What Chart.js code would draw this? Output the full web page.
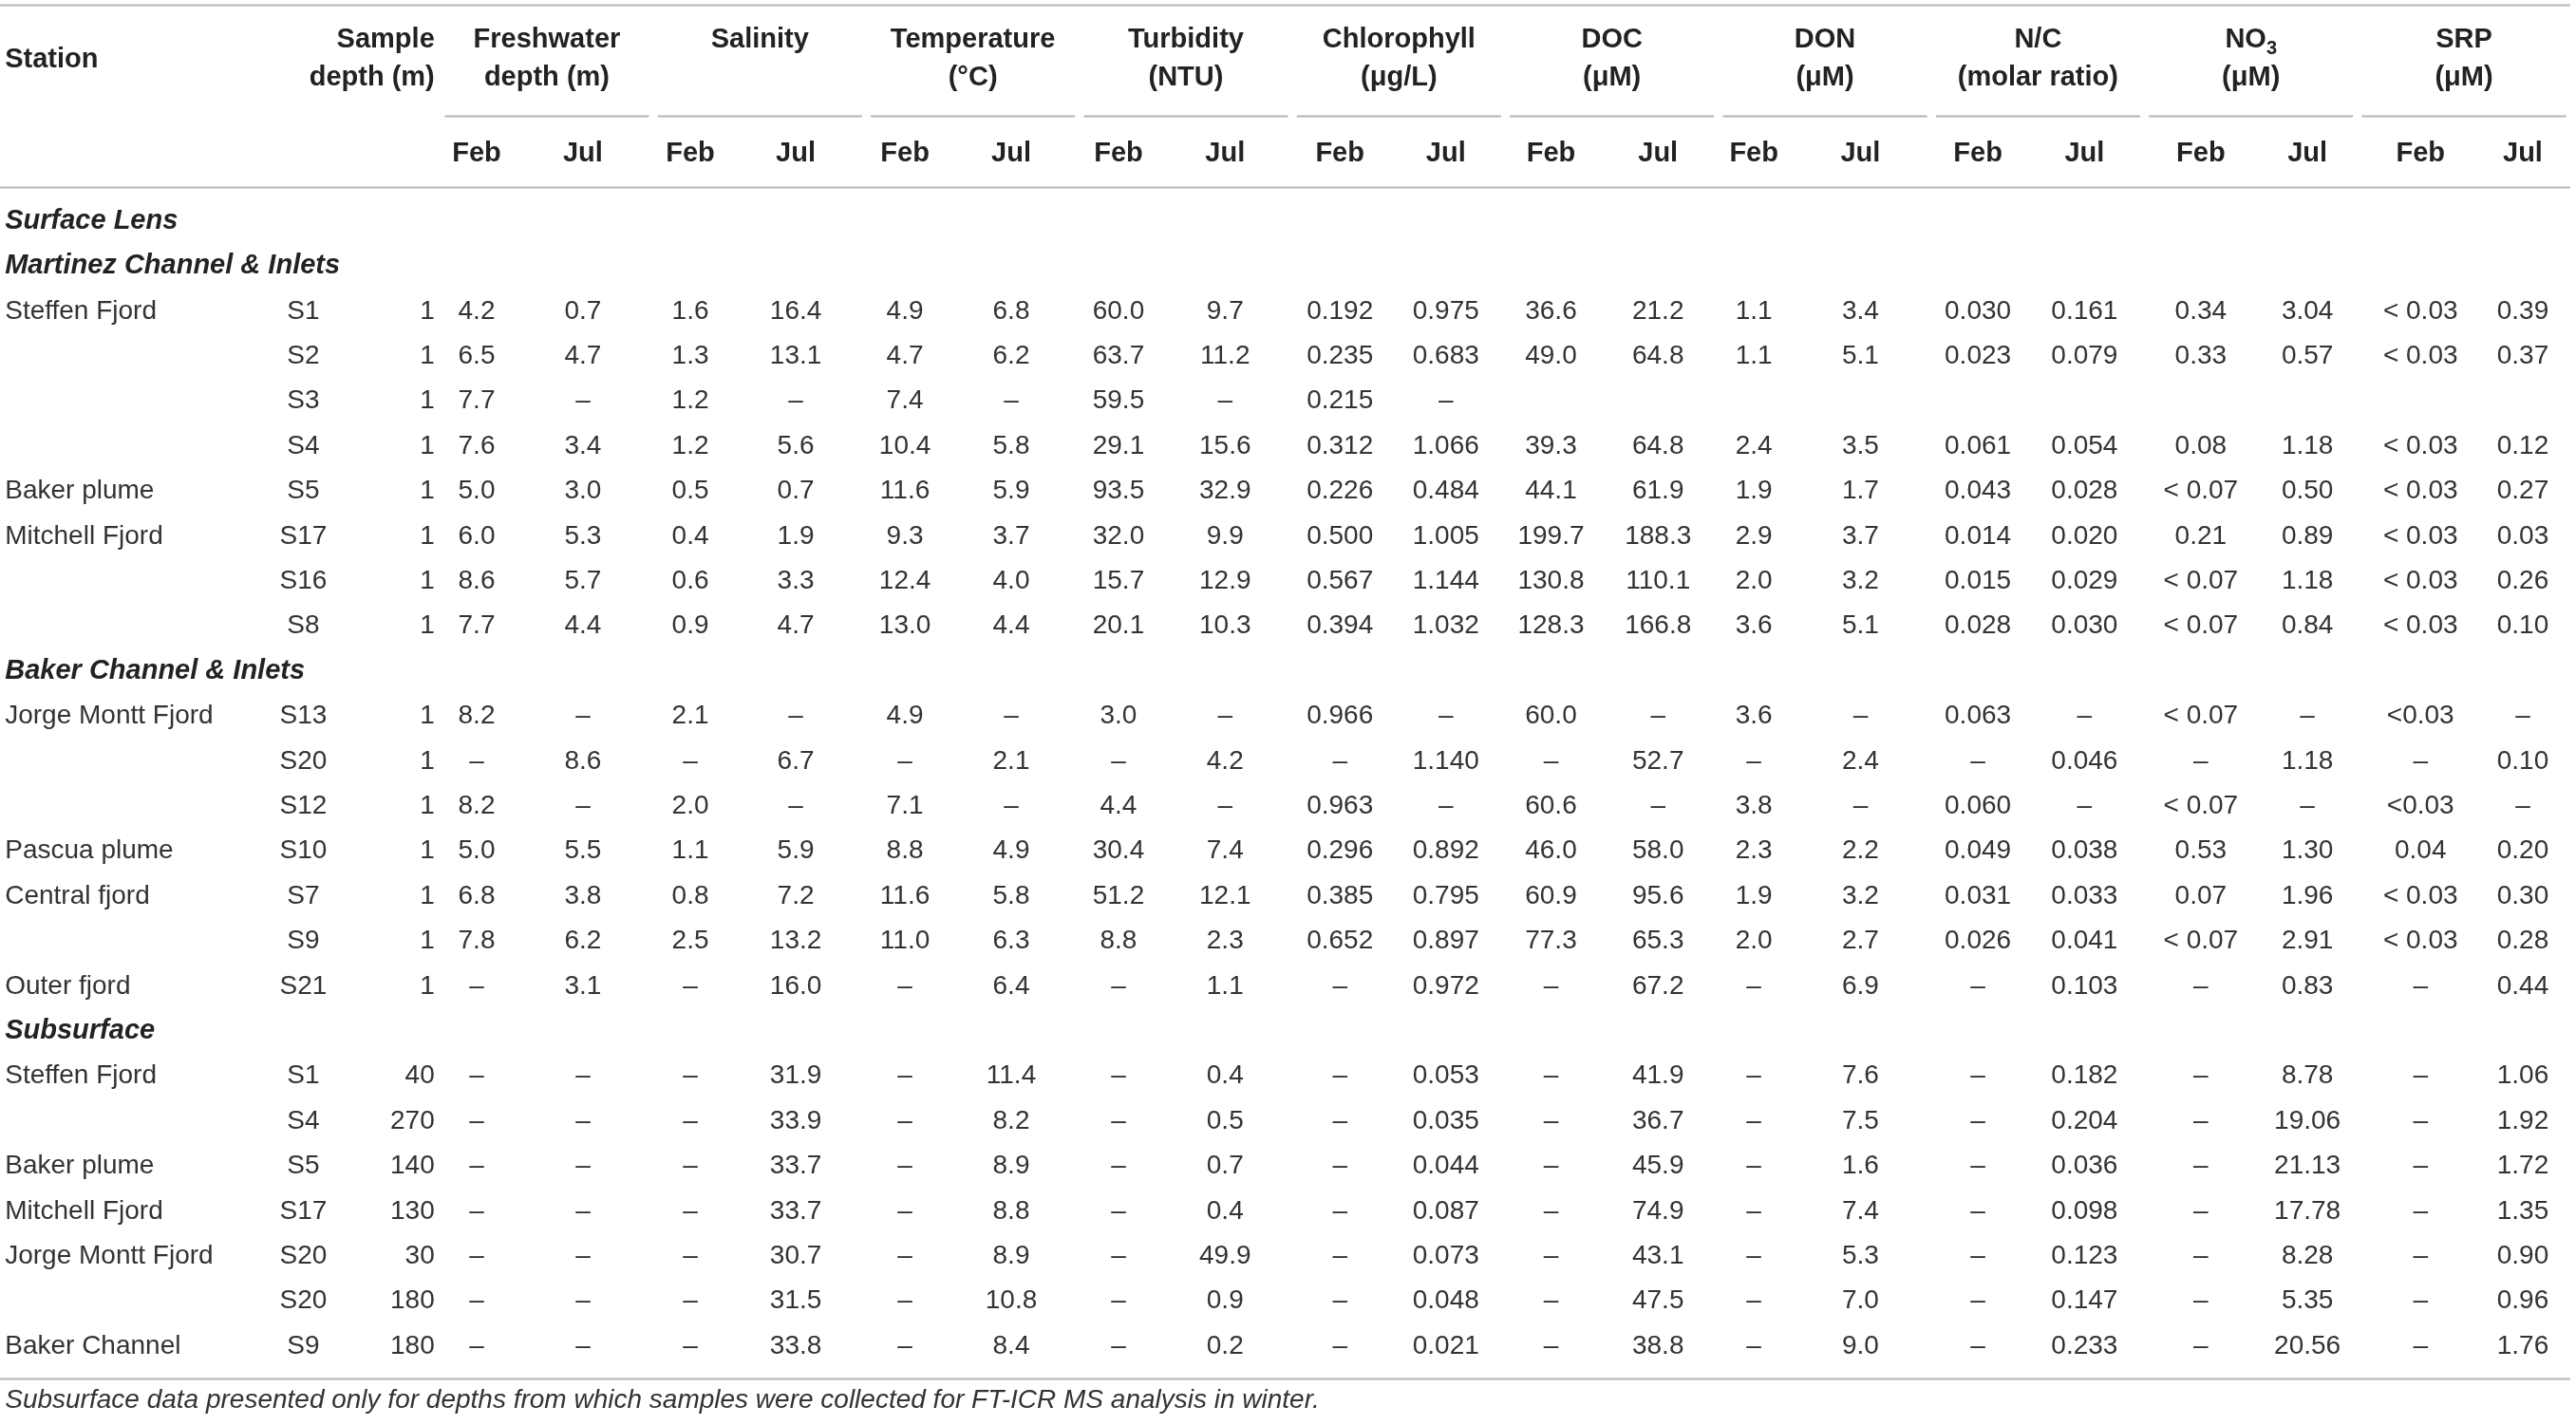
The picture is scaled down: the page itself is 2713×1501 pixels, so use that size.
<!DOCTYPE html>
<html>
<head>
<meta charset="utf-8">
<script src="https://cdn.jsdelivr.net/npm/chart.js@4.4.1/dist/chart.umd.min.js"></script>
<style>
  html, body { margin: 0; padding: 0; background: #fff; }
  canvas { display: block; }
</style>
</head>
<body>
<canvas id="tableChart" width="2713" height="1501"></canvas>
<script>
const D = '\u2013';

// Section headings and the data row they sit above
const sectionTitles = ['Surface Lens', 'Martinez Channel & Inlets', 'Baker Channel & Inlets', 'Subsurface'];
const sectionBefore = [0, 0, 8, 15];

const stationNames = ['Steffen Fjord', '', '', '', 'Baker plume', 'Mitchell Fjord', '', '',
  'Jorge Montt Fjord', '', '', 'Pascua plume', 'Central fjord', '', 'Outer fjord',
  'Steffen Fjord', '', 'Baker plume', 'Mitchell Fjord', 'Jorge Montt Fjord', '', 'Baker Channel'];
const stationIds = ['S1', 'S2', 'S3', 'S4', 'S5', 'S17', 'S16', 'S8',
  'S13', 'S20', 'S12', 'S10', 'S7', 'S9', 'S21',
  'S1', 'S4', 'S5', 'S17', 'S20', 'S20', 'S9'];
const sampleDepths = ['1', '1', '1', '1', '1', '1', '1', '1',
  '1', '1', '1', '1', '1', '1', '1',
  '40', '270', '140', '130', '30', '180', '180'];

const groupLabels = [['Freshwater', 'depth (m)'], ['Salinity'], ['Temperature', '(\u00b0C)'], ['Turbidity', '(NTU)'],
  ['Chlorophyll', '(\u03bcg/L)'], ['DOC', '(\u03bcM)'], ['DON', '(\u03bcM)'], ['N/C', '(molar ratio)'],
  ['NO\u2083', '(\u03bcM)'], ['SRP', '(\u03bcM)']];
const months = ['Feb', 'Jul'];

const sub7 = [D, D, D, D, D, D, D];
const freshFeb = ['4.2', '6.5', '7.7', '7.6', '5.0', '6.0', '8.6', '7.7', '8.2', D, '8.2', '5.0', '6.8', '7.8', D, ...sub7];
const freshJul = ['0.7', '4.7', D, '3.4', '3.0', '5.3', '5.7', '4.4', D, '8.6', D, '5.5', '3.8', '6.2', '3.1', ...sub7];
const salFeb = ['1.6', '1.3', '1.2', '1.2', '0.5', '0.4', '0.6', '0.9', '2.1', D, '2.0', '1.1', '0.8', '2.5', D, ...sub7];
const salJul = ['16.4', '13.1', D, '5.6', '0.7', '1.9', '3.3', '4.7', D, '6.7', D, '5.9', '7.2', '13.2', '16.0',
  '31.9', '33.9', '33.7', '33.7', '30.7', '31.5', '33.8'];
const tempFeb = ['4.9', '4.7', '7.4', '10.4', '11.6', '9.3', '12.4', '13.0', '4.9', D, '7.1', '8.8', '11.6', '11.0', D, ...sub7];
const tempJul = ['6.8', '6.2', D, '5.8', '5.9', '3.7', '4.0', '4.4', D, '2.1', D, '4.9', '5.8', '6.3', '6.4',
  '11.4', '8.2', '8.9', '8.8', '8.9', '10.8', '8.4'];
const turbFeb = ['60.0', '63.7', '59.5', '29.1', '93.5', '32.0', '15.7', '20.1', '3.0', D, '4.4', '30.4', '51.2', '8.8', D, ...sub7];
const turbJul = ['9.7', '11.2', D, '15.6', '32.9', '9.9', '12.9', '10.3', D, '4.2', D, '7.4', '12.1', '2.3', '1.1',
  '0.4', '0.5', '0.7', '0.4', '49.9', '0.9', '0.2'];
const chlFeb = ['0.192', '0.235', '0.215', '0.312', '0.226', '0.500', '0.567', '0.394', '0.966', D, '0.963', '0.296', '0.385', '0.652', D, ...sub7];
const chlJul = ['0.975', '0.683', D, '1.066', '0.484', '1.005', '1.144', '1.032', D, '1.140', D, '0.892', '0.795', '0.897', '0.972',
  '0.053', '0.035', '0.044', '0.087', '0.073', '0.048', '0.021'];
const docFeb = ['36.6', '49.0', '', '39.3', '44.1', '199.7', '130.8', '128.3', '60.0', D, '60.6', '46.0', '60.9', '77.3', D, ...sub7];
const docJul = ['21.2', '64.8', '', '64.8', '61.9', '188.3', '110.1', '166.8', D, '52.7', D, '58.0', '95.6', '65.3', '67.2',
  '41.9', '36.7', '45.9', '74.9', '43.1', '47.5', '38.8'];
const donFeb = ['1.1', '1.1', '', '2.4', '1.9', '2.9', '2.0', '3.6', '3.6', D, '3.8', '2.3', '1.9', '2.0', D, ...sub7];
const donJul = ['3.4', '5.1', '', '3.5', '1.7', '3.7', '3.2', '5.1', D, '2.4', D, '2.2', '3.2', '2.7', '6.9',
  '7.6', '7.5', '1.6', '7.4', '5.3', '7.0', '9.0'];
const ncFeb = ['0.030', '0.023', '', '0.061', '0.043', '0.014', '0.015', '0.028', '0.063', D, '0.060', '0.049', '0.031', '0.026', D, ...sub7];
const ncJul = ['0.161', '0.079', '', '0.054', '0.028', '0.020', '0.029', '0.030', D, '0.046', D, '0.038', '0.033', '0.041', '0.103',
  '0.182', '0.204', '0.036', '0.098', '0.123', '0.147', '0.233'];
const no3Feb = ['0.34', '0.33', '', '0.08', '< 0.07', '0.21', '< 0.07', '< 0.07', '< 0.07', D, '< 0.07', '0.53', '0.07', '< 0.07', D, ...sub7];
const no3Jul = ['3.04', '0.57', '', '1.18', '0.50', '0.89', '1.18', '0.84', D, '1.18', D, '1.30', '1.96', '2.91', '0.83',
  '8.78', '19.06', '21.13', '17.78', '8.28', '5.35', '20.56'];
const srpFeb = ['< 0.03', '< 0.03', '', '< 0.03', '< 0.03', '< 0.03', '< 0.03', '< 0.03', '<0.03', D, '<0.03', '0.04', '< 0.03', '< 0.03', D, ...sub7];
const srpJul = ['0.39', '0.37', '', '0.12', '0.27', '0.03', '0.26', '0.10', D, '0.10', D, '0.20', '0.30', '0.28', '0.44',
  '1.06', '1.92', '1.72', '1.35', '0.90', '0.96', '1.76'];

const valueColumns = [freshFeb, freshJul, salFeb, salJul, tempFeb, tempJul, turbFeb, turbJul, chlFeb, chlJul,
  docFeb, docJul, donFeb, donJul, ncFeb, ncJul, no3Feb, no3Jul, srpFeb, srpJul];

const footnote = 'Subsurface data presented only for depths from which samples were collected for FT-ICR MS analysis in winter.';

// Layout in scale units (x: value column index, y: body row index)
const colPos = [0, 0.987, 1.984, 2.963, 3.977, 4.964, 5.96, 6.95, 8.016, 9.0,
  9.976, 10.97, 11.86, 12.85, 13.94, 14.93, 16.01, 17.0, 18.05, 19.0];
const pos = {
  stationX: -4.38, idX: -1.61, depthX: -0.39,
  groupX0: 0.652, groupStep: 1.978, groupHalf: 0.948,
  head1Y: -4.03, head2Y: -3.19, stationHeadY: -3.59, groupLineY: -2.34, monthY: -1.5,
  topLineY: -4.81, headLineY: -0.76, bottomLineY: 25.72, footY: 26.2,
  lineX0: -4.426, lineX1: 19.44
};

const fonts = {
  body: '28px "Liberation Sans", Arial, sans-serif',
  head: 'bold 29px "Liberation Sans", Arial, sans-serif',
  section: 'italic bold 29px "Liberation Sans", Arial, sans-serif',
  foot: 'italic 28px "Liberation Sans", Arial, sans-serif'
};
const bodyColor = '#333333';
const headColor = '#222222';

// Map data rows to table rows (section headings take a row each)
const rowOf = [];
const sectionRow = [];
let r = 0;
for (let i = 0; i < stationIds.length; i++) {
  sectionBefore.forEach((b, s) => { if (b === i) { sectionRow[s] = r; r++; } });
  rowOf.push(r);
  r++;
}

function textSet(texts, xs, ys, font, align, color) {
  return {
    data: texts.map((t, i) => ({ x: Array.isArray(xs) ? xs[i] : xs, y: Array.isArray(ys) ? ys[i] : ys })),
    texts: texts, font: font, align: align, color: color,
    pointRadius: 0, pointHoverRadius: 0, showLine: false
  };
}

const datasets = [];
datasets.push(textSet(sectionTitles, pos.stationX, sectionRow, fonts.section, 'left', headColor));
datasets.push(textSet(stationNames, pos.stationX, rowOf, fonts.body, 'left', bodyColor));
datasets.push(textSet(stationIds, pos.idX, rowOf, fonts.body, 'center', bodyColor));
datasets.push(textSet(sampleDepths, pos.depthX, rowOf, fonts.body, 'right', bodyColor));
valueColumns.forEach((col, c) => {
  datasets.push(textSet(col, colPos[c], rowOf, fonts.body, 'center', bodyColor));
});
// Header texts
datasets.push(textSet(['Station'], pos.stationX, pos.stationHeadY, fonts.head, 'left', headColor));
datasets.push(textSet(['Sample', 'depth (m)'], pos.depthX, [pos.head1Y, pos.head2Y], fonts.head, 'right', headColor));
const gTexts = [], gXs = [], gYs = [];
groupLabels.forEach((lines, g) => {
  lines.forEach((t, k) => {
    gTexts.push(t);
    gXs.push(pos.groupX0 + pos.groupStep * g);
    gYs.push(k === 0 ? pos.head1Y : pos.head2Y);
  });
});
datasets.push(textSet(gTexts, gXs, gYs, fonts.head, 'center', headColor));
const mTexts = valueColumns.map((_, c) => months[c % 2]);
datasets.push(textSet(mTexts, colPos, pos.monthY, fonts.head, 'center', headColor));
datasets.push(textSet([footnote], pos.stationX, pos.footY, fonts.foot, 'left', bodyColor));

function drawLabel(ctx, text, x, y, font, align) {
  const subIdx = text.indexOf('\u2083');
  if (subIdx < 0) {
    ctx.textAlign = align;
    ctx.fillText(text, x, y);
    return;
  }
  // text with a subscript 3
  const base = text.slice(0, subIdx);
  const small = font.replace(/\d+px/, m => Math.round(parseInt(m) * 0.68) + 'px');
  const w1 = ctx.measureText(base).width;
  ctx.font = small;
  const w2 = ctx.measureText('3').width;
  let left = align === 'center' ? x - (w1 + w2) / 2 : align === 'right' ? x - w1 - w2 : x;
  ctx.textAlign = 'left';
  ctx.fillText('3', left + w1, y + 9);
  ctx.font = font;
  ctx.fillText(base, left, y);
}

const tablePlugin = {
  id: 'tablePlugin',
  beforeDatasetsDraw(chart) {
    const { ctx, scales: { x, y } } = chart;
    ctx.save();
    ctx.strokeStyle = '#b3b3b3';
    ctx.lineWidth = 2;
    [pos.topLineY, pos.headLineY, pos.bottomLineY].forEach(v => {
      const py = Math.round(y.getPixelForValue(v)) + 0.5;
      ctx.beginPath();
      ctx.moveTo(x.getPixelForValue(pos.lineX0), py);
      ctx.lineTo(x.getPixelForValue(pos.lineX1), py);
      ctx.stroke();
    });
    const gy = Math.round(y.getPixelForValue(pos.groupLineY)) + 0.5;
    groupLabels.forEach((_, g) => {
      const cx = pos.groupX0 + pos.groupStep * g;
      ctx.beginPath();
      ctx.moveTo(x.getPixelForValue(cx - pos.groupHalf), gy);
      ctx.lineTo(x.getPixelForValue(cx + pos.groupHalf), gy);
      ctx.stroke();
    });
    ctx.restore();
  },
  afterDatasetsDraw(chart) {
    const ctx = chart.ctx;
    ctx.save();
    ctx.textBaseline = 'middle';
    chart.data.datasets.forEach((ds, i) => {
      const meta = chart.getDatasetMeta(i);
      ctx.fillStyle = ds.color;
      meta.data.forEach((pt, j) => {
        const t = ds.texts[j];
        if (!t) return;
        ctx.font = ds.font;
        drawLabel(ctx, t, pt.x, pt.y, ds.font, ds.align);
      });
    });
    ctx.restore();
  }
};

new Chart(document.getElementById('tableChart').getContext('2d'), {
  type: 'scatter',
  data: { datasets: datasets },
  options: {
    responsive: false,
    devicePixelRatio: 1,
    animation: false,
    events: [],
    layout: { padding: 0 },
    plugins: { legend: { display: false }, tooltip: { enabled: false } },
    scales: {
      x: { type: 'linear', display: false, min: -4.426, max: 19.494 },
      y: { type: 'linear', display: false, reverse: true, min: -4.916, max: 26.75 }
    }
  },
  plugins: [tablePlugin]
});
</script>
</body>
</html>
